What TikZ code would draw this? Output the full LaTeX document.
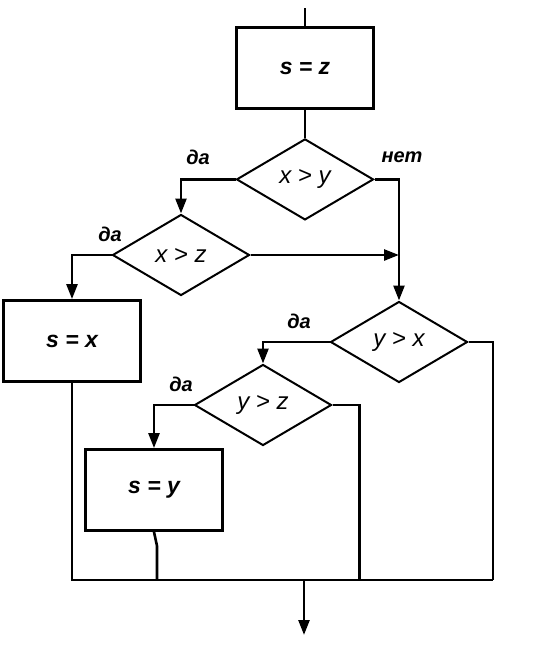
\documentclass[tikz,border=0pt]{standalone}
\usepackage{fontspec}
\setmainfont{Liberation Sans}
\usetikzlibrary{arrows.meta,positioning,shapes.geometric,calc}

\begin{document}
\begin{tikzpicture}[
        x=1pt,y=-1pt,
        line width=2.6pt,
        act/.style={draw,line width=2.8pt,minimum width=137pt,minimum height=81pt,inner sep=0pt,font=\fontsize{23}{26}\selectfont\bfseries\itshape},
        cond/.style={draw,diamond,aspect=1.69,line width=2pt,minimum width=137pt,minimum height=81pt,inner sep=0pt,font=\fontsize{24}{27}\selectfont\itshape},
        lbl/.style={font=\fontsize{20}{23}\selectfont\bfseries\itshape},
        arr/.style={-{Triangle[width=11pt,length=15pt]}}
      ]
      \useasboundingbox (0,0) rectangle (534,654);
      \node[act] (sz) at (305,68) {s = z};
      \node[cond,below=28pt of sz] (dxy) {x > y};
      \node[cond] (dxz) at (181,255) {x > z};
      \node[act] (sx) at (72,341) {s = x};
      \node[cond] (dyx) at (399,342) {y > x};
      \node[cond] (dyz) at (263,405) {y > z};
      \node[act] (sy) at (154,490) {s = y};
      \coordinate (jr) at (493,580);
      \coordinate (out) at (304,635);

      \node[lbl] at (198,157) {да};
      \node[lbl] at (402,157) {нет};
      \node[lbl] at (110,234) {да};
      \node[lbl] at (299,321) {да};
      \node[lbl] at (181,384) {да};

      \draw (sz.north) -- ++(0,-18);
      \draw (sz) -- (dxy);
      \draw[arr] (dxy.west) -| (dxz.north);
      \draw[arr] (dxy.east) -| (dyx.north);
      \draw[arr] (dxz.east) -- (dxz.east -| dyx.north);
      \draw[arr] (dxz.west) -| (sx.north);
      \draw[arr] (dyx.west) -| (dyz.north);
      \draw[arr] (dyz.west) -| (sy.north);
      \draw (dyx.east) -| (jr);
      \draw (dyz.east) -- ++(27,0) |- (jr);
      \draw (sx.south) |- (jr);
      \draw (sy.south) -- ++(3,14) coordinate (k) -- (k |- jr);
      \draw[arr] (out |- jr) -- (out);
    \end{tikzpicture}
\end{document}
